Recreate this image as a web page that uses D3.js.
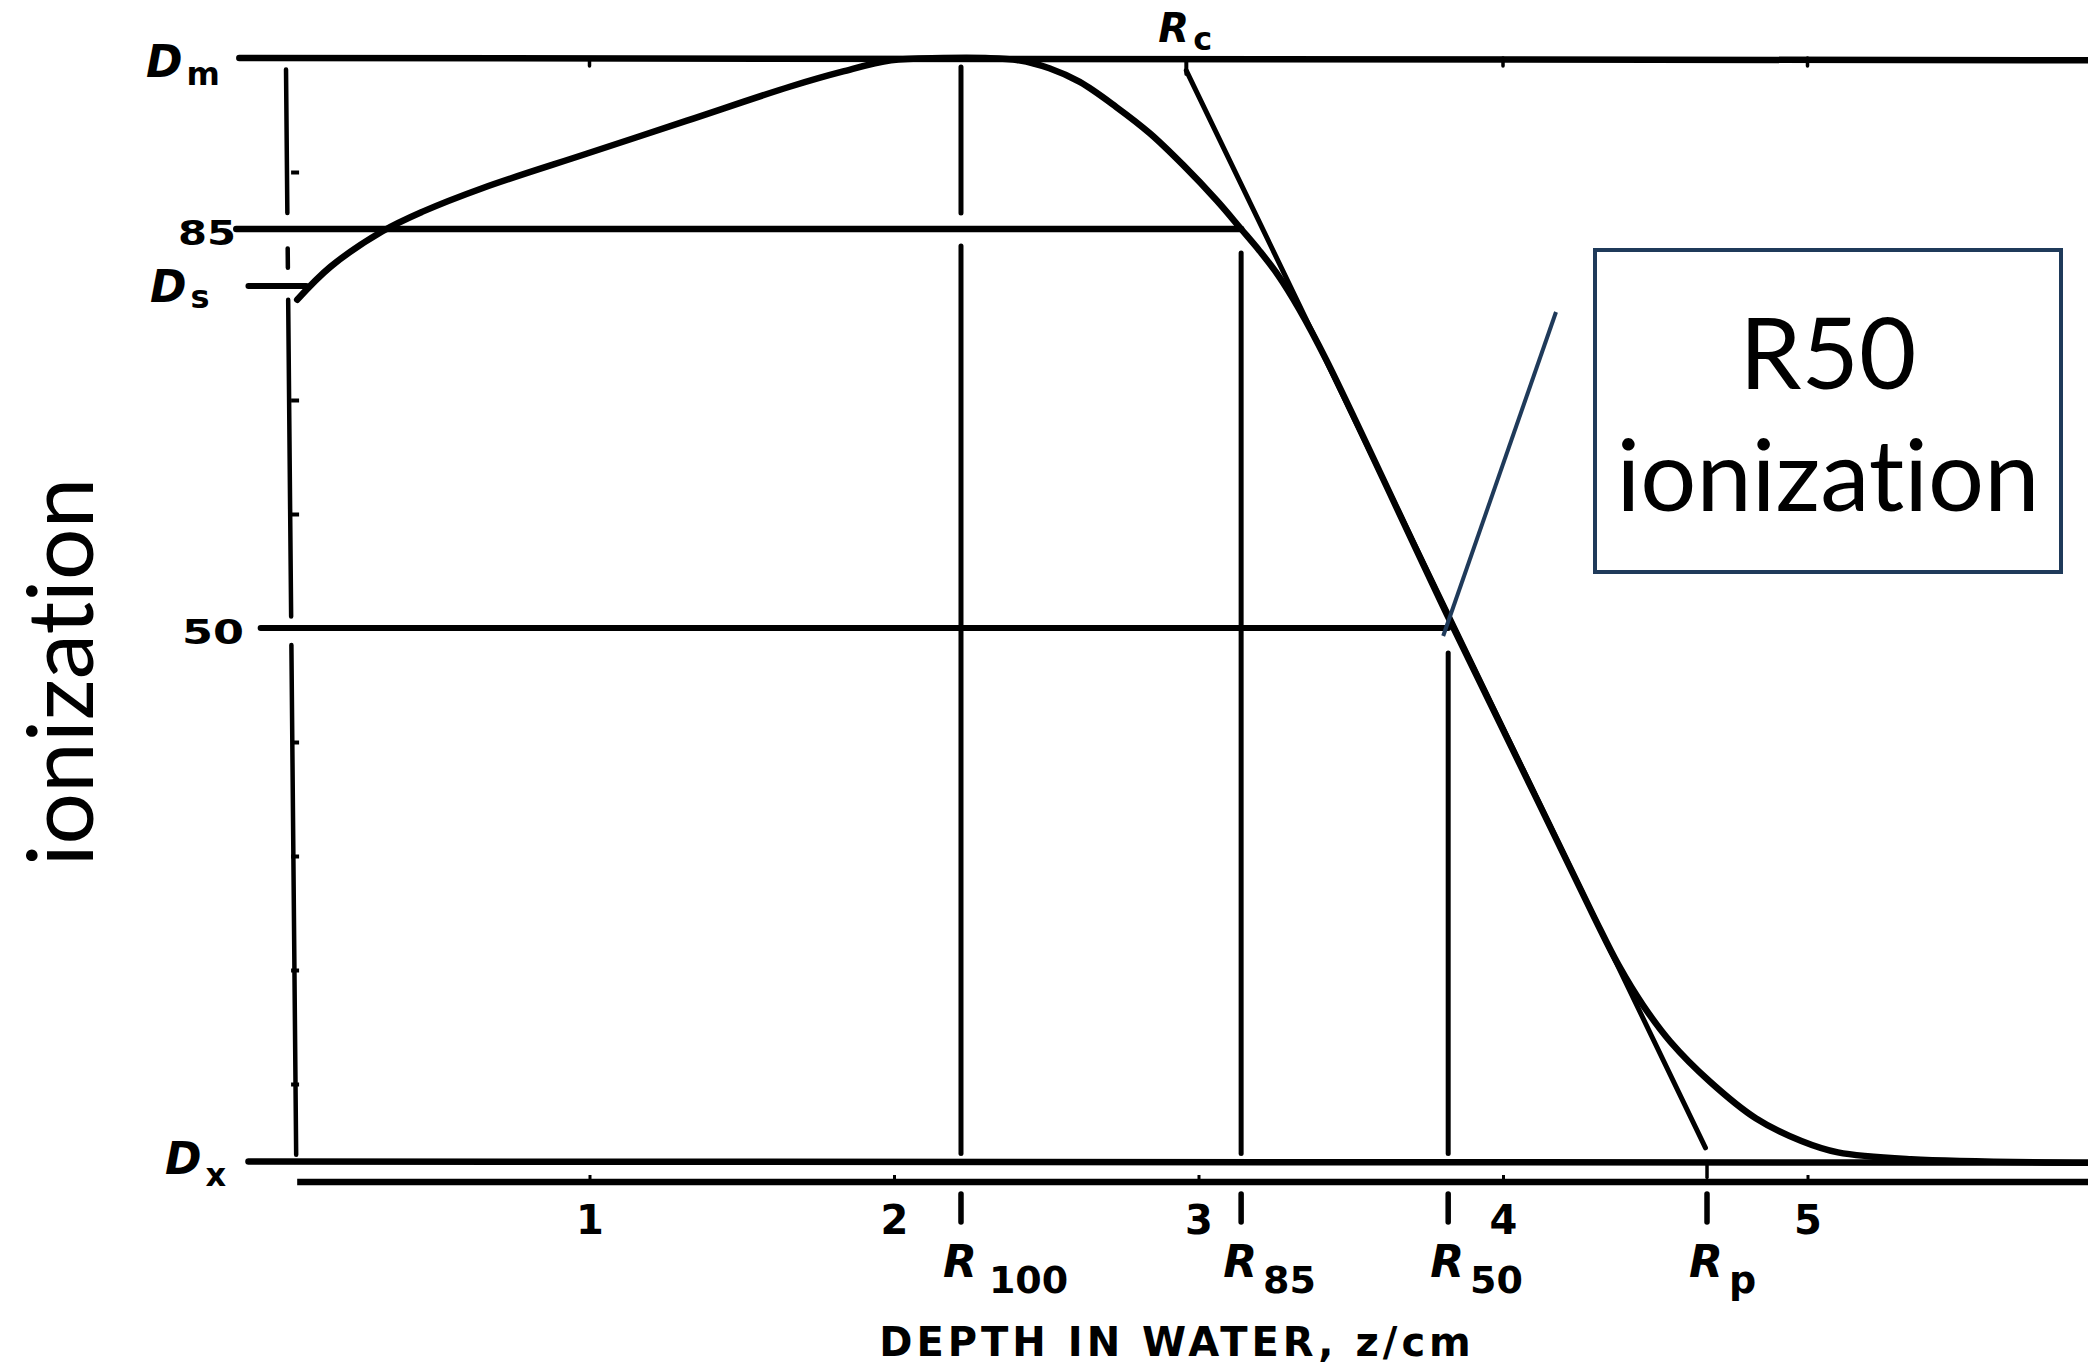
<!DOCTYPE html>
<html lang="en">
<head>
  <meta charset="utf-8">
  <title>Depth ionization curve</title>
  <script src="https://d3js.org/d3.v7.min.js"></script>
  <style>
    body { margin: 0; background: #fff; }
    svg { display: block; background: #fff; }
    .scan { font-family: "DejaVu Sans", sans-serif; font-weight: bold; fill: #000; }
    .note { font-family: Lato, "Open Sans", sans-serif; fill: #000;
            font-variant-ligatures: none; font-feature-settings: "liga" 0, "clig" 0; }
  </style>
</head>
<body>
<script>
// depth in water (cm) and relative ionization (%)
var depth = [0.04, 0.15, 0.32, 0.45, 0.65, 0.99, 1.32, 1.66, 1.83, 1.99, 2.16, 2.30, 2.41, 2.51, 2.61, 2.73, 2.84, 2.95, 3.06, 3.14, 3.20, 3.26, 3.33, 3.42, 3.83, 4.10, 4.30, 4.38, 4.46, 4.55, 4.68, 4.83, 4.98, 5.10, 5.34, 5.92];
var ionization = [78.8, 81.7, 84.8, 86.5, 88.6, 91.6, 94.5, 97.5, 98.8, 99.8, 100, 100, 99.8, 99.1, 97.9, 95.7, 93.4, 90.6, 87.5, 85.0, 83.1, 81.0, 78.0, 73.5, 50.4, 35.6, 24.6, 20.4, 16.9, 13.7, 10.2, 7.0, 5.0, 4.0, 3.4, 3.1];

// named levels on the ionization axis
var Dm = 100, D85 = 85, Ds = 80, D50 = 50, Dx = 3.2;
// named depths (cm)
var rangeNames = ["100", "85", "50", "p"];
var rangeDepths = [2.22, 3.14, 3.82, 4.67];
var Rc = 2.96;

var depthTicks = [1, 2, 3, 4, 5];
var ionTicks = [90, 70, 60, 40, 30, 20, 10];
var topTicks = [1, 4, 5];

var w = 2088, h = 1371;

var x = d3.scaleLinear().domain([0, 6]).range([285, 285 + 6 * 304.5]);
var y = d3.scaleLinear().domain([0, 100]).range([1198, 58]);

var svg = d3.select('body').append('svg')
    .attr('width', w)
    .attr('height', h);

function seg(x1, v1, x2, v2, sw) {
  svg.append('line')
    .attr('x1', x(x1)).attr('y1', y(v1))
    .attr('x2', x(x2)).attr('y2', y(v2))
    .attr('stroke', '#000')
    .attr('stroke-width', sw)
    .attr('stroke-linecap', 'round');
}

// left axis (slightly slanted, broken at the reference lines)
var axisDepth = function(v) { return 0.003 + (1 - v / 100) * 0.035; };
[[99.0, 86.4], [83.3, 81.6], [78.8, 51.0], [48.5, 3.8]].forEach(function(s) {
  seg(axisDepth(s[0]), s[0], axisDepth(s[1]), s[1], 4.5);
});

svg.append('g')
    .attr('transform', 'translate(' + (x(0.02)) + ',0)')
    .call(d3.axisRight(y).tickValues(ionTicks).tickSize(8).tickFormat(''))
    .call(function(g) { g.select('.domain').remove(); })
    .call(function(g) { g.selectAll('line').attr('stroke-width', 4); });

// horizontal reference lines
seg(-0.15, Dm, 6, Dm - 0.2, 6.5);
seg(-0.16, D85, rangeDepths[1], D85, 6.5);
seg(-0.12, Ds, 0.07, Ds, 6);
seg(-0.08, D50, rangeDepths[2], D50, 6);
seg(-0.12, Dx, 6, Dx - 0.1, 6.5);

// ticks on top line
topTicks.forEach(function(d) { seg(d, Dm, d, Dm - 0.7, 3.5); });

// vertical range lines
seg(rangeDepths[0], 99.2, rangeDepths[0], 86.4, 5);
seg(rangeDepths[0], 83.5, rangeDepths[0], 3.9, 5);
seg(rangeDepths[1], 82.9, rangeDepths[1], 3.9, 5);
seg(rangeDepths[2], 47.8, rangeDepths[2], 3.9, 5);

// tangent from Rc to Rp
seg(Rc, 98.9, rangeDepths[3] - 0.005, 4.4, 5);
seg(Rc, Dm, Rc, 98.6, 4);
seg(rangeDepths[3], Dx, rangeDepths[3], 1.8, 3.5);

// depth-ionization curve
var line = d3.line()
    .x(function(d) { return x(d[0]); })
    .y(function(d) { return y(d[1]); })
    .curve(d3.curveCatmullRom.alpha(0.5));

svg.append('path')
    .datum(d3.zip(depth, ionization))
    .attr('fill', 'none')
    .attr('stroke', '#000')
    .attr('stroke-width', 6.5)
    .attr('stroke-linejoin', 'round')
    .attr('stroke-linecap', 'round')
    .attr('d', line);

// bottom axis
var axisY = 1182;
svg.append('line')
    .attr('x1', x(0.04)).attr('x2', w)
    .attr('y1', axisY).attr('y2', axisY)
    .attr('stroke', '#000').attr('stroke-width', 6.5);

svg.append('g')
    .attr('transform', 'translate(0,' + axisY + ')')
    .call(d3.axisBottom(x).tickValues(depthTicks).tickSize(-7).tickPadding(24).tickFormat(d3.format('d')))
    .call(function(g) { g.select('.domain').remove(); })
    .call(function(g) { g.selectAll('line').attr('stroke-width', 3); })
    .call(function(g) {
      g.selectAll('text').attr('class', 'scan').style('font-size', '40px');
    });

// short marks under the axis at the named depths
rangeDepths.forEach(function(d) {
  svg.append('line')
    .attr('x1', x(d)).attr('x2', x(d))
    .attr('y1', 1194).attr('y2', 1222)
    .attr('stroke', '#000').attr('stroke-width', 5.5)
    .attr('stroke-linecap', 'round');
});

// R labels under the axis
rangeDepths.forEach(function(d, i) {
  var t = svg.append('text').attr('class', 'scan')
      .attr('x', x(d) - 18).attr('y', 1277);
  t.append('tspan').style('font-size', '44px').style('font-style', 'italic').text('R');
  t.append('tspan').style('font-size', '38px')
    .attr('dx', i === 0 ? 12 : 6).attr('dy', 16).text(rangeNames[i]);
});

// Rc label
var rc = svg.append('text').attr('class', 'scan')
    .attr('x', x(Rc) - 28).attr('y', 42);
rc.append('tspan').style('font-size', '40px').style('font-style', 'italic').text('R');
rc.append('tspan').style('font-size', '32px').attr('dx', 4).attr('dy', 8).text('c');

// level labels on the left
function dLabel(v, sub, lx, off, subOff) {
  var t = svg.append('text').attr('class', 'scan')
      .attr('x', lx).attr('y', y(v) + off);
  t.append('tspan').style('font-size', '44px').style('font-style', 'italic').text('D');
  t.append('tspan').style('font-size', '32px').attr('dx', 4).attr('dy', subOff).text(sub);
}
dLabel(Dm, 'm', 146, 19, 8);
dLabel(Ds, 's', 150, 16, 6);
dLabel(Dx, 'x', 165, 12, 12);

[D85, D50].forEach(function(v) {
  svg.append('text').attr('class', 'scan')
    .attr('x', v === D85 ? 178 : 182)
    .attr('y', y(v) + 16)
    .attr('textLength', v === D85 ? 58 : 62)
    .attr('lengthAdjust', 'spacingAndGlyphs')
    .style('font-size', '34px')
    .text(v);
});

// axis title
svg.append('text').attr('class', 'scan')
    .attr('x', 1177).attr('y', 1356)
    .attr('text-anchor', 'middle')
    .style('font-size', '40px')
    .style('letter-spacing', '4px')
    .text('DEPTH IN WATER, z/cm');

// y label
svg.append('text').attr('class', 'note')
    .attr('transform', 'translate(93,672) rotate(-90)')
    .attr('text-anchor', 'middle')
    .style('font-size', '91px')
    .text('ionization');

// callout box
var navy = '#1f3a5a';
svg.append('line')
    .attr('x1', 1556).attr('y1', 312)
    .attr('x2', x(rangeDepths[2]) - 5).attr('y2', y(D50) + 8)
    .attr('stroke', navy).attr('stroke-width', 4);

svg.append('rect')
    .attr('x', 1595).attr('y', 250)
    .attr('width', 466).attr('height', 322)
    .attr('fill', '#fff')
    .attr('stroke', navy).attr('stroke-width', 4);

svg.append('text').attr('class', 'note')
    .attr('x', 1828).attr('y', 389)
    .attr('text-anchor', 'middle')
    .style('font-size', '99px')
    .text('R50');
svg.append('text').attr('class', 'note')
    .attr('x', 1828).attr('y', 511)
    .attr('text-anchor', 'middle')
    .style('font-size', '99px')
    .text('ionization');
</script>
</body>
</html>
